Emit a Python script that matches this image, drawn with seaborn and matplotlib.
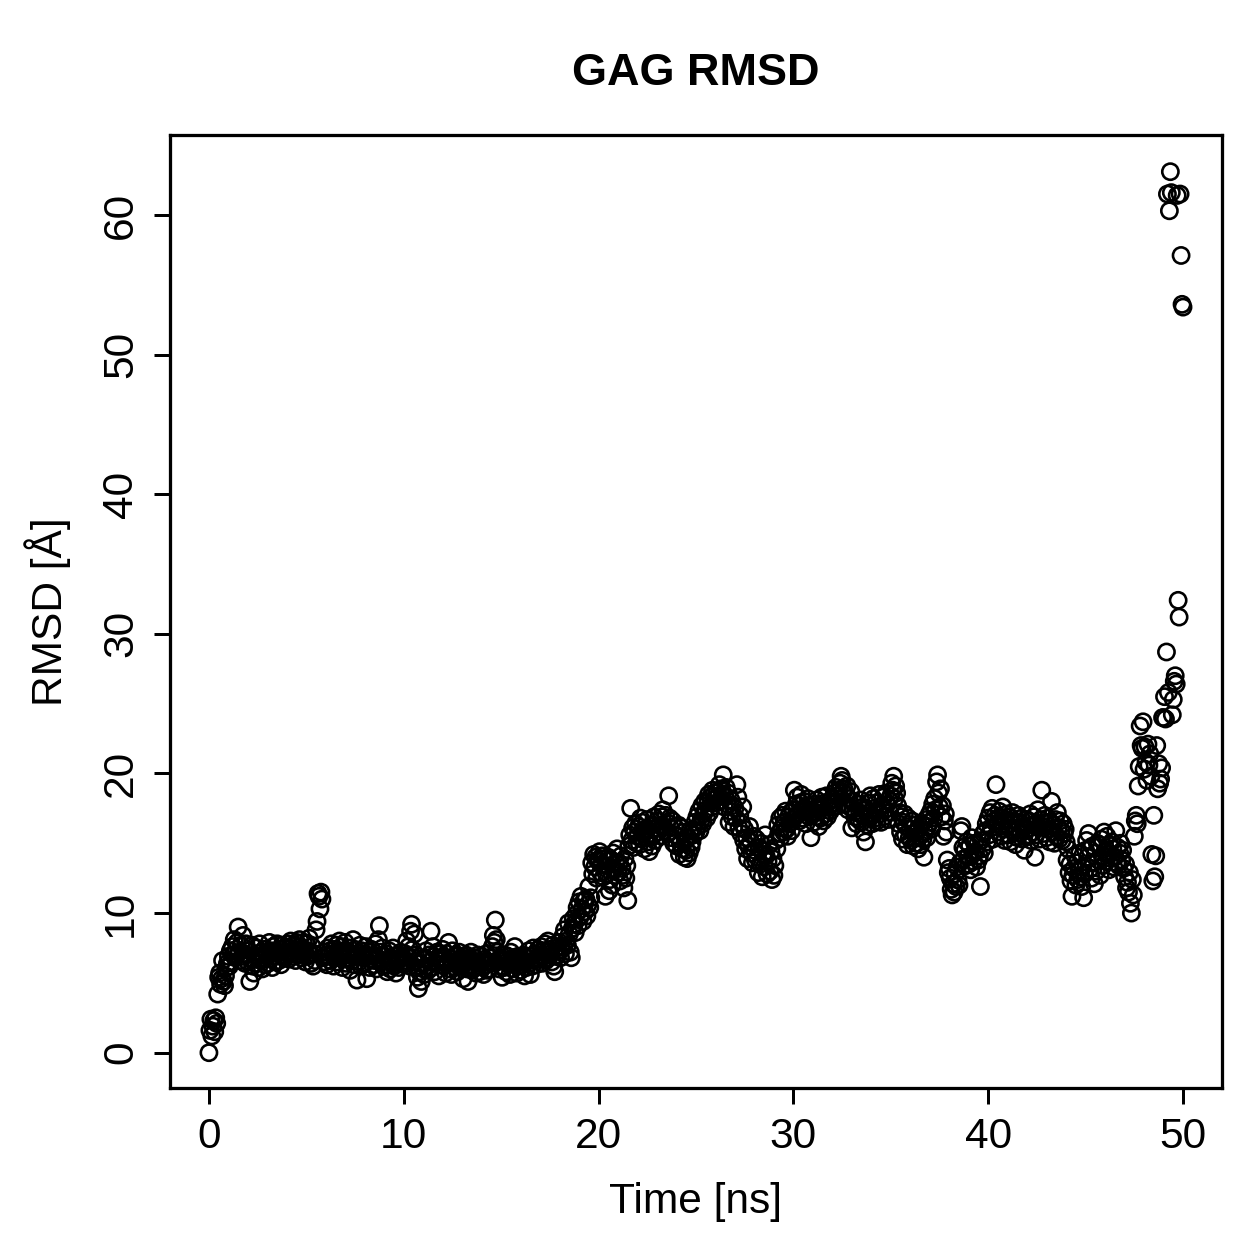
import numpy as np
import pandas as pd
import matplotlib
matplotlib.use("Agg")
import matplotlib.pyplot as plt
import seaborn as sns

# RMSD of GAG along the trajectory, one row per nanosecond (0.05 ns frames)
RMSD = [
    0.0, 1.6, 2.4, 1.2, 1.9, 2.3, 1.5, 2.5, 2.1, 4.2, 5.4, 5.7, 4.9, 5.3, 6.6, 5.1, 4.8, 5.5, 6.1, 6.4,
    6.9, 6.2, 7.3, 6.5, 7.6, 7.0, 8.1, 6.8, 7.4, 7.9, 9.0, 7.2, 6.6, 7.7, 6.9, 8.4, 7.1, 6.4, 7.8, 7.0,
    6.5, 7.3, 5.1, 6.8, 7.7, 6.2, 5.7, 7.0, 6.4, 7.5, 6.9, 6.1, 7.8, 6.6, 7.2, 6.0, 6.8, 7.4, 6.3, 7.1,
    7.0, 6.4, 7.9, 6.7, 7.3, 6.1, 7.6, 6.9, 7.2, 6.5, 7.8, 7.1, 6.6, 7.4, 6.3, 7.7, 7.0, 6.8, 7.5, 6.9,
    7.2, 7.8, 6.7, 7.5, 8.0, 7.1, 6.9, 7.7, 7.4, 6.6, 7.9, 7.3, 7.0, 8.1, 7.6, 6.8, 7.4, 7.9, 7.2, 6.5,
    7.8, 6.9, 7.3, 8.2, 7.0, 6.4, 7.6, 6.2, 7.1, 6.6, 8.8, 9.4, 11.4, 11.2, 10.3, 11.5, 11.0, 6.8, 7.2, 6.5,
    7.0, 6.3, 7.5, 6.9, 7.3, 6.6, 7.8, 7.1, 6.2, 7.4, 6.8, 7.7, 6.5, 7.2, 8.0, 6.9, 7.6, 6.1, 7.3, 6.7,
    7.9, 6.4, 7.2, 6.8, 7.5, 5.9, 7.0, 6.6, 8.1, 6.3, 7.4, 6.9, 5.2, 7.1, 6.5, 7.7, 6.2, 7.3, 6.8, 7.0,
    6.4, 7.6, 5.3, 6.9, 7.2, 6.1, 6.7, 7.4, 6.3, 7.0, 6.6, 7.8, 6.0, 6.8, 8.1, 9.1, 7.2, 6.5, 7.5, 6.2,
    6.9, 6.3, 7.1, 5.8, 6.6, 7.3, 6.0, 6.8, 6.4, 7.5, 6.2, 6.9, 5.7, 6.5, 7.0, 6.1, 6.7, 7.2, 6.4, 6.8,
    6.3, 7.1, 6.6, 8.0, 6.9, 7.6, 6.2, 8.7, 9.2, 7.4, 6.8, 8.5, 7.0, 6.1, 5.4, 4.6, 5.8, 6.4, 5.1, 6.7,
    6.0, 5.6, 6.8, 7.3, 6.2, 5.9, 7.0, 6.5, 8.7, 6.1, 7.6, 6.9, 5.8, 6.4, 7.2, 6.7, 5.5, 6.3, 7.1, 6.6,
    7.4, 6.2, 6.8, 5.7, 7.1, 6.5, 7.9, 6.0, 6.7, 5.6, 7.3, 6.4, 6.9, 6.1, 7.0, 5.8, 6.6, 7.2, 6.3, 6.8,
    6.2, 5.3, 6.9, 6.5, 7.0, 6.0, 5.1, 6.7, 6.3, 7.2, 5.9, 6.6, 6.1, 6.8, 5.7, 6.4, 7.0, 6.2, 5.8, 6.5,
    6.9, 6.1, 5.6, 6.7, 6.3, 7.1, 5.9, 6.5, 6.0, 6.8, 6.4, 7.6, 8.4, 7.9, 9.5, 8.1, 7.2, 6.6, 6.0, 6.8,
    6.2, 5.4, 6.7, 6.1, 7.0, 5.8, 6.5, 6.9, 6.3, 5.6, 7.2, 6.6, 6.0, 6.8, 7.6, 6.4, 5.7, 6.9, 6.2, 6.6,
    5.9, 6.7, 6.3, 7.0, 5.5, 6.5, 6.1, 6.8, 7.3, 6.4, 5.6, 6.9, 6.2, 7.5, 6.6, 7.1, 6.3, 6.8, 7.4, 6.7,
    7.0, 7.6, 6.4, 7.3, 6.9, 7.8, 6.6, 7.2, 8.0, 6.8, 7.4, 7.1, 6.5, 7.7, 6.2, 5.8, 6.9, 7.5, 7.0, 7.3,
    7.9, 6.8, 7.4, 8.3, 7.6, 8.8, 7.1, 8.0, 7.7, 9.3, 8.5, 7.2, 6.8, 8.9, 9.6, 9.2, 8.6, 9.9, 10.4, 9.1,
    10.8, 9.7, 11.2, 10.3, 9.4, 10.9, 10.1, 11.0, 9.8, 10.6, 11.9, 10.4, 11.1, 13.6, 12.8, 14.2, 13.3, 14.0, 12.5, 13.8,
    13.7, 14.4, 12.9, 13.5, 14.1, 12.6, 13.9, 11.2, 12.8, 13.4, 14.0, 11.6, 12.4, 13.8, 12.0, 14.3, 13.1, 12.7, 13.6, 14.6,
    12.9, 13.6, 12.3, 14.1, 13.2, 12.7, 11.8, 13.9, 12.5, 13.4, 10.9, 14.8, 15.6, 17.5, 15.2, 16.1, 14.7, 15.8, 16.4, 15.0,
    15.5, 16.2, 14.9, 16.8, 15.3, 16.5, 15.9, 14.6, 16.0, 15.4, 16.7, 15.1, 14.4, 15.7, 16.3, 14.8, 15.6, 16.9, 15.2, 16.1,
    16.6, 15.8, 17.1, 16.3, 15.5, 16.9, 17.4, 16.2, 15.9, 17.0, 16.5, 15.7, 18.4, 16.8, 16.1, 15.4, 16.6, 15.0, 16.2, 15.6,
    14.8, 15.5, 16.3, 14.2, 15.0, 16.1, 14.6, 15.8, 14.0, 15.2, 14.5, 13.9, 15.4, 14.3, 15.9, 14.7, 15.1, 16.0, 15.6, 16.5,
    15.8, 16.9, 16.2, 17.3, 15.9, 16.6, 17.7, 16.4, 17.1, 18.0, 17.4, 16.8, 17.9, 18.5, 17.2, 18.3, 17.6, 18.8, 18.1, 18.6,
    18.2, 17.9, 18.7, 18.4, 19.2, 18.0, 18.9, 18.5, 19.9, 17.6, 18.3, 19.0, 17.8, 18.6, 16.5, 17.3, 18.1, 16.9, 17.7, 16.2,
    17.5, 16.8, 19.2, 18.3, 16.1, 17.0, 15.7, 16.4, 17.6, 15.2, 16.0, 14.6, 15.4, 13.9, 14.8, 16.2, 15.1, 14.3, 13.6, 15.5,
    14.5, 13.8, 15.3, 14.0, 12.9, 14.7, 13.5, 15.0, 12.6, 14.2, 13.3, 15.6, 14.1, 12.8, 13.7, 14.9, 13.0, 14.4, 12.4, 13.9,
    12.7, 13.4, 15.2, 14.6, 16.3, 15.7, 16.8, 15.4, 16.1, 17.0, 15.8, 16.5, 17.3, 16.0, 15.5, 16.9, 16.4, 17.2, 15.9, 16.7,
    17.4, 18.8, 16.9, 17.8, 18.3, 17.1, 16.6, 17.9, 18.5, 17.3, 16.8, 18.0, 17.5, 16.4, 17.7, 18.2, 16.9, 17.4, 15.4, 17.0,
    17.2, 16.5, 17.8, 16.9, 18.1, 17.4, 16.2, 17.7, 16.8, 18.3, 17.5, 16.6, 17.9, 17.1, 18.4, 16.9, 17.6, 18.0, 17.3, 17.8,
    18.2, 17.6, 18.6, 17.9, 19.0, 18.4, 17.7, 18.8, 19.3, 19.8, 19.5, 18.6, 18.9, 17.8, 18.5, 19.1, 17.4, 18.2, 17.6, 18.7,
    16.1, 17.5, 18.0, 16.9, 17.3, 16.4, 17.8, 16.7, 17.2, 18.1, 16.5, 17.6, 15.8, 16.9, 15.1, 17.4, 16.3, 17.9, 16.8, 18.4,
    17.0, 16.4, 18.2, 17.5, 16.8, 17.9, 16.6, 17.3, 18.5, 17.1, 16.5, 17.7, 18.3, 16.9, 17.4, 18.6, 17.8, 16.7, 18.1, 17.2,
    18.4, 19.3, 18.8, 19.8, 18.2, 19.1, 18.6, 17.7, 16.4, 17.2, 15.8, 16.9, 15.3, 16.5, 17.1, 15.6, 16.2, 14.9, 16.8, 15.4,
    16.0, 15.2, 16.6, 14.8, 15.7, 16.3, 15.0, 15.9, 14.6, 16.1, 15.5, 14.9, 16.4, 15.3, 14.0, 15.8, 16.7, 15.4, 16.2, 17.0,
    16.5, 17.3, 16.0, 17.8, 16.8, 18.2, 17.4, 19.4, 19.9, 18.6, 17.6, 18.9, 16.9, 17.7, 15.5, 16.6, 17.1, 15.8, 13.8, 12.9,
    13.2, 12.5, 11.7, 11.3, 12.1, 11.5, 12.8, 11.9, 13.3, 12.4, 12.0, 13.6, 15.9, 16.2, 14.7, 13.9, 14.5, 13.4, 15.1, 14.0,
    13.5, 14.8, 13.1, 15.4, 14.2, 13.7, 15.0, 14.4, 13.3, 14.9, 13.8, 14.1, 11.9, 15.2, 14.6, 15.7, 14.3, 15.9, 16.4, 15.1,
    16.8, 15.6, 17.2, 16.1, 17.5, 15.3, 16.6, 17.0, 19.2, 16.4, 15.8, 17.3, 16.9, 15.5, 16.2, 17.6, 16.0, 15.2, 16.7, 17.1,
    16.3, 15.6, 16.9, 15.1, 16.4, 17.2, 15.8, 16.6, 14.9, 16.1, 15.4, 17.0, 16.5, 15.7, 16.8, 15.3, 16.2, 14.5, 15.9, 16.7,
    16.0, 15.5, 16.6, 17.1, 15.2, 16.3, 15.8, 16.9, 14.0, 15.6, 16.4, 17.4, 16.1, 15.3, 16.7, 18.8, 16.2, 15.7, 17.0, 16.5,
    15.4, 16.8, 16.0, 15.1, 16.5, 18.0, 15.8, 16.3, 15.0, 16.7, 15.5, 17.2, 16.1, 15.3, 16.6, 15.9, 15.2, 16.4, 15.7, 16.0,
    15.1, 13.8, 14.6, 12.9, 13.5, 12.3, 11.2, 12.7, 13.2, 14.1, 12.0, 13.6, 12.4, 13.0, 14.3, 12.6, 11.9, 13.3, 11.1, 12.8,
    14.5, 15.2, 14.0, 15.7, 14.6, 13.2, 12.5, 14.8, 13.6, 12.1, 14.3, 13.0, 15.0, 13.8, 14.9, 12.7, 15.3, 14.1, 13.4, 15.8,
    14.4, 13.7, 15.5, 14.2, 13.1, 14.9, 13.9, 15.1, 14.6, 13.3, 14.0, 15.9, 13.6, 14.7, 13.4, 14.3, 15.0, 13.8, 14.5, 13.2,
    12.6, 13.5, 11.8, 12.2, 11.5, 12.9, 10.7, 10.0, 12.4, 11.3, 15.5, 16.6, 17.0, 16.4, 19.1, 20.5, 23.4, 22.0, 21.8, 23.7,
    20.3, 21.9, 20.8, 19.5, 22.1, 20.6, 21.4, 19.8, 14.2, 12.3, 17.0, 12.6, 14.1, 22.0, 18.9, 20.7, 19.3, 19.6, 20.4, 24.0,
    24.0, 25.5, 23.9, 28.7, 61.5, 25.8, 60.3, 63.1, 61.6, 24.2, 25.3, 26.6, 27.0, 26.4, 61.4, 32.4, 31.2, 61.5, 57.1, 53.6,
    53.4,
]
T_START = 0.0
T_END = 50.0

X_TICKS = [0, 10, 20, 30, 40, 50]
Y_TICKS = [0, 10, 20, 30, 40, 50, 60]

times = np.linspace(T_START, T_END, len(RMSD))
df = pd.DataFrame({"time": times, "rmsd": RMSD})
print("frames:", len(df))

sns.set_style("ticks")
plt.rcParams["font.family"] = ["Liberation Sans", "DejaVu Sans"]
plt.rcParams["text.color"] = "black"
plt.rcParams["axes.labelcolor"] = "black"

fig = plt.figure(figsize=(1259 / 180, 1259 / 180), dpi=180)
ax = fig.add_axes([0.135, 0.1358, 0.8356, 0.757])

sns.scatterplot(data=df, x="time", y="rmsd", ax=ax, marker="o", s=42,
                color="black", edgecolor="black", linewidth=1.05, legend=False)
ax.collections[0].set_facecolor("none")

ax.set_xlim(-2.0, 52.0)
ax.set_ylim(-2.53, 65.73)
ax.set_xticks(X_TICKS)
ax.set_yticks(Y_TICKS)
ax.set_xticklabels([str(v) for v in X_TICKS])
ax.set_yticklabels([str(v) for v in Y_TICKS], rotation=90, va="center")

for side in ["top", "right", "bottom", "left"]:
    ax.spines[side].set_visible(True)
    ax.spines[side].set_linewidth(1.3)
    ax.spines[side].set_color("black")
ax.tick_params(axis="both", direction="out", length=6.5, width=1.2,
               labelsize=17, color="black", labelcolor="black")
ax.tick_params(axis="x", pad=5)
ax.tick_params(axis="y", pad=5)

ax.set_xlabel("Time [ns]", fontsize=17, labelpad=10, color="black")
ax.set_ylabel("RMSD [Å]", fontsize=17, labelpad=12, color="black")
ax.set_title("GAG RMSD", fontsize=18, fontweight="bold", pad=20, color="black")

fig.savefig("out.png", dpi=180, facecolor="white")
